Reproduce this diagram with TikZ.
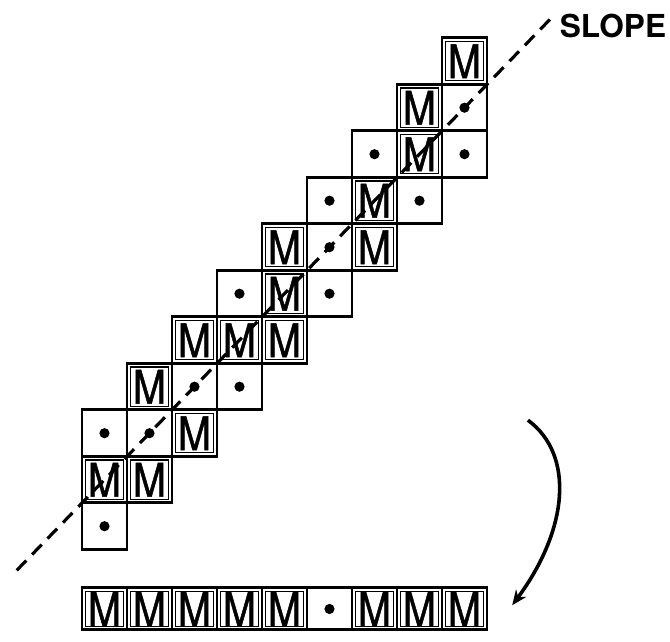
\documentclass[tikz,border=0pt]{standalone}
\usepackage{fontspec}
\setmainfont{TeX Gyre Heros}
\newfontfamily\cellfont[FakeStretch=0.86, FakeBold=1]{TeX Gyre Heros}
\usetikzlibrary{arrows.meta}

\begin{document}
\begin{tikzpicture}[
  x=1.5cm, y=1.55cm,
  >={Stealth[length=5mm, width=4.2mm]},
  cellbox/.style={draw=black, line width=2.8pt,
    minimum width=1.5cm, minimum height=1.55cm, inner sep=0pt,
    font=\cellfont\fontsize{44}{44}\selectfont},
  mcell/.style={cellbox, path picture={\draw[line width=1.2pt]
    ([shift={(0.12cm,-0.12cm)}]path picture bounding box.north west) rectangle
    ([shift={(-0.12cm,0.12cm)}]path picture bounding box.south east);}},
  dotcell/.style={cellbox, path picture={\fill
    (path picture bounding box.center) circle (0.17cm);}},
  rowm/.style={mcell, minimum height=1.4cm},
  rowdot/.style={dotcell, minimum height=1.4cm},
  slopeline/.style={dash pattern=on 13pt off 8pt, line width=3pt},
  turn/.style={->, line width=3.4pt}
]
\useasboundingbox (-2.322,1.316) rectangle (12.567,-12.490);

% staircase of cells, top row first
\node[mcell] (r0c8) at (8,0) {M};
\node[mcell] (r1c7) at (7,-1) {M};
\node[dotcell] (r1c8) at (8,-1) {};
\node[dotcell] (r2c6) at (6,-2) {};
\node[mcell] (r2c7) at (7,-2) {M};
\node[dotcell] (r2c8) at (8,-2) {};
\node[dotcell] (r3c5) at (5,-3) {};
\node[mcell] (r3c6) at (6,-3) {M};
\node[dotcell] (r3c7) at (7,-3) {};
\node[mcell] (r4c4) at (4,-4) {M};
\node[dotcell] (r4c5) at (5,-4) {};
\node[mcell] (r4c6) at (6,-4) {M};
\node[dotcell] (r5c3) at (3,-5) {};
\node[mcell] (r5c4) at (4,-5) {M};
\node[dotcell] (r5c5) at (5,-5) {};
\node[mcell] (r6c2) at (2,-6) {M};
\node[mcell] (r6c3) at (3,-6) {M};
\node[mcell] (r6c4) at (4,-6) {M};
\node[mcell] (r7c1) at (1,-7) {M};
\node[dotcell] (r7c2) at (2,-7) {};
\node[dotcell] (r7c3) at (3,-7) {};
\node[dotcell] (r8c0) at (0,-8) {};
\node[dotcell] (r8c1) at (1,-8) {};
\node[mcell] (r8c2) at (2,-8) {M};
\node[mcell] (r9c0) at (0,-9) {M};
\node[mcell] (r9c1) at (1,-9) {M};
\node[dotcell] (r10c0) at (0,-10) {};

% the slope through the staircase
\coordinate (slopeA) at (-1.95,-10.95);
\coordinate (slopeB) at (9.95,0.95);
\draw[slopeline] (slopeA) -- (slopeB);
\node[font=\bfseries\fontsize{30}{30}\selectfont] (slope) at (11.3,0.75) {SLOPE};

% unrolled row
\node[rowm] (b0) at (0,-11.78) {M};
\node[rowm] (b1) at (1,-11.78) {M};
\node[rowm] (b2) at (2,-11.78) {M};
\node[rowm] (b3) at (3,-11.78) {M};
\node[rowm] (b4) at (4,-11.78) {M};
\node[rowdot] (b5) at (5,-11.78) {};
\node[rowm] (b6) at (6,-11.78) {M};
\node[rowm] (b7) at (7,-11.78) {M};
\node[rowm] (b8) at (8,-11.78) {M};

\coordinate (arcA) at (9.41,-7.72);
\coordinate (arcB) at (9.06,-11.70);
\draw[turn] (arcA) .. controls (10.46,-8.47) and (10.30,-10.08) .. (arcB);
\end{tikzpicture}
\end{document}
